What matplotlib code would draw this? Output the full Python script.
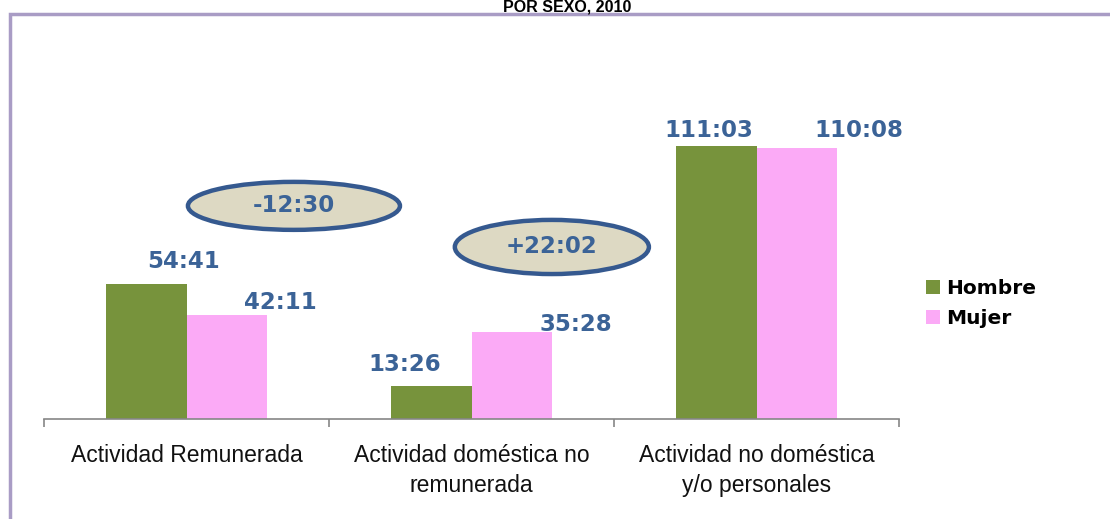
import numpy as np
import matplotlib.pyplot as plt
from matplotlib.patches import Ellipse, Rectangle, Patch

# Horas semanales por tipo de actividad (h, min)
categorias = ['Actividad Remunerada', 'Actividad doméstica no\nremunerada',
              'Actividad no doméstica\ny/o personales']
hombre = [(54, 41), (13, 26), (111, 3)]
mujer = [(42, 11), (35, 28), (110, 8)]
series = ['Hombre', 'Mujer']


def to_hours(hm):
    return np.array([h + m / 60.0 for h, m in hm])


def fmt(hm):
    return '%d:%02d' % hm


def diff(a, b):
    # b - a in minutes, shown as +hh:mm
    d = (b[0] * 60 + b[1]) - (a[0] * 60 + a[1])
    sign = '+' if d >= 0 else '-'
    d = abs(d)
    return '%s%d:%02d' % (sign, d // 60, d % 60)


h_val = to_hours(hombre)
m_val = to_hours(mujer)

green = '#77933C'
pink = '#FBAAF6'
blue = '#3B6397'

W, H = 1110, 519
fig = plt.figure(figsize=(W / 100, H / 100), dpi=100)
ax = fig.add_axes([44 / W, (H - 419) / H, 855 / W, 379 / H])

x = np.arange(len(categorias))
bw = 0.284
ax.bar(x - bw / 2, h_val, bw, color=green, label=series[0])
ax.bar(x + bw / 2, m_val, bw, color=pink, label=series[1])

ax.set_xlim(-0.5, 2.5)
ax.set_ylim(0, 154)

# value labels, nudged by hand like the original
lab_h = [(-0.012, 63.8), (0.767, 22.0), (1.833, 117.1)]
lab_m = [(0.328, 47.2), (1.367, 38.2), (2.360, 117.1)]
for (lx, ly), hm in zip(lab_h, hombre):
    ax.text(lx, ly, fmt(hm), ha='center', va='center', fontsize=16.5,
            fontweight='bold', color=blue)
for (lx, ly), hm in zip(lab_m, mujer):
    ax.text(lx, ly, fmt(hm), ha='center', va='center', fontsize=16.5,
            fontweight='bold', color=blue)

# difference bubbles
bubbles = [((0.377, 86.6), 0.744, 19.5, 0), ((1.282, 69.9), 0.681, 22.0, 1)]
for (cx, cy), ew, eh, i in bubbles:
    ax.add_patch(Ellipse((cx, cy), ew, eh, facecolor='#DDD9C3',
                         edgecolor='#35598F', linewidth=3.2, zorder=3))
    ax.text(cx, cy, diff(hombre[i], mujer[i]), ha='center', va='center',
            fontsize=16.5, fontweight='bold', color=blue, zorder=4)

for s in ['top', 'right', 'left']:
    ax.spines[s].set_visible(False)
ax.spines['bottom'].set_color('#868686')
ax.spines['bottom'].set_linewidth(1.2)
ax.set_yticks([])
ax.set_xticks(x)
ax.set_xticklabels(categorias, fontsize=16.5, family='Liberation Sans',
                   color='#111111', linespacing=1.4)
ax.tick_params(axis='x', which='major', length=0, pad=18)
ax.set_xticks([-0.5, 0.5, 1.5, 2.5], minor=True)
ax.tick_params(axis='x', which='minor', length=6, width=1.2, color='#868686')

handles = [Patch(facecolor=green), Patch(facecolor=pink)]
fig.legend(handles, series, loc='upper left',
           bbox_to_anchor=(926 / W, 1 - 279 / H), frameon=False,
           prop={'size': 14.5, 'weight': 'bold'}, handlelength=0.7,
           handleheight=0.7, handletextpad=0.3, labelspacing=0.55,
           borderpad=0, borderaxespad=0)

# frame of the chart area, running off the picture
fig.add_artist(Rectangle((10 / W, -0.2), 2, 1 - 14 / H + 0.2,
                         transform=fig.transFigure, fill=False,
                         edgecolor='#A99CC5', linewidth=2.5))
fig.text(567 / W, 1 - 12 / H, 'POR SEXO, 2010', ha='center', va='baseline',
         fontsize=11.5, fontweight='bold', family='Liberation Sans')

fig.savefig('out.png', dpi=100)
